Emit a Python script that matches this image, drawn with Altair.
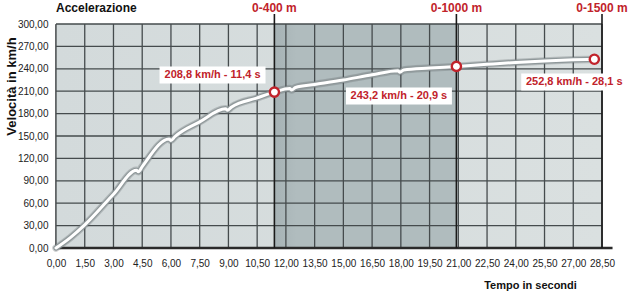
import altair as alt
import pandas as pd

# ---- data ----
time_s = [0.0, 0.75, 1.5, 3.0, 4.2, 4.3, 4.5, 5.9, 6.0, 6.2, 7.5, 8.85, 8.95, 9.15,
          10.5, 11.4, 12.2, 12.3, 12.5, 13.5, 15.0, 16.5, 17.85, 17.95, 18.15, 19.5,
          20.9, 22.5, 24.0, 25.5, 27.0, 28.1]
speed_kmh = [0.0, 14.0, 31.0, 72.0, 104.0, 102.0, 109.0, 146.0, 144.0, 149.0, 169.0,
             186.5, 184.5, 188.5, 201.0, 208.8, 213.5, 211.5, 215.0, 219.0, 225.0,
             232.0, 237.5, 235.5, 238.5, 241.0, 243.2, 246.0, 248.5, 250.5, 252.0, 252.8]

marker_t = [11.4, 20.9, 28.1]
marker_v = [208.8, 243.2, 252.8]
marker_labels = ["208,8 km/h - 11,4 s", "243,2 km/h - 20,9 s", "252,8 km/h - 28,1 s"]
label_t = [8.17, 17.9, 27.05]
label_v = [231.7, 203.6, 222.3]

dist_t = [11.4, 20.9, 28.5]
dist_labels = ["0-400 m", "0-1000 m", "0-1500 m"]

chart_title = "Accelerazione"

x_ticks = [0.0, 1.5, 3.0, 4.5, 6.0, 7.5, 9.0, 10.5, 12.0, 13.5, 15.0, 16.5, 18.0,
           19.5, 21.0, 22.5, 24.0, 25.5, 27.0, 28.5]
y_ticks = [0, 30, 60, 90, 120, 150, 180, 210, 240, 270, 300]

x_min, x_max = 0.0, 28.5
y_min, y_max = 0, 300
axis_end = 29.05

FONT = "Liberation Sans, Arial, sans-serif"
RED = "#c1232b"
GRID = "#454b4d"

curve = pd.DataFrame({"t": time_s, "v": speed_kmh})
markers = pd.DataFrame({"t": marker_t, "v": marker_v, "lt": label_t, "lv": label_v,
                        "label": marker_labels})
dists = pd.DataFrame({"t": dist_t, "label": dist_labels, "y0": y_min, "y1": y_max})
title_df = pd.DataFrame({"t": [x_min], "v": [y_max], "label": [chart_title]})
bg = pd.DataFrame({"x0": [x_min], "x1": [x_max], "y0": [y_min], "y1": [y_max]})
band = pd.DataFrame({"x0": [dist_t[0]], "x1": [dist_t[1]], "y0": [y_min], "y1": [y_max]})
vgrid = pd.DataFrame({"t": x_ticks, "y0": y_min, "y1": y_max})
hgrid = pd.DataFrame({"v": y_ticks, "x0": x_min, "x1": x_max})
base = pd.DataFrame({"x0": [x_min], "x1": [axis_end], "v": [y_min]})

lab_expr = "replace(format(datum.value, '.2f'), '.', ',')"
xscale = alt.Scale(domain=[x_min, x_max], nice=False, zero=False)
yscale = alt.Scale(domain=[y_min, y_max], nice=False)
xaxis = alt.Axis(values=x_ticks, labelExpr=lab_expr, domain=False, ticks=False, grid=False,
                 labelPadding=10, labelFontSize=10, labelColor="#222222", labelOverlap=False,
                 labelFlush=False, labelFont=FONT,
                 title="Tempo in secondi", titleX=474, titleY=37, titleAlign="center",
                 titleBaseline="middle", titleFontWeight="bold", titleFontSize=11,
                 titleColor="#111111", titleFont=FONT)
yaxis = alt.Axis(values=y_ticks, labelExpr=lab_expr, domain=True, domainColor="#2a2a2a",
                 domainWidth=2, ticks=False, grid=False, labelPadding=8, labelFontSize=10,
                 labelColor="#222222", labelFont=FONT,
                 title="Velocità in km/h", titleX=-45, titleY=62, titleAngle=270,
                 titleAlign="center", titleBaseline="middle", titleFontWeight="bold",
                 titleFontSize=13, titleColor="#111111", titleFont=FONT)


def X(field):
    return alt.X(field, type="quantitative", scale=xscale, axis=xaxis)


def Y(field):
    return alt.Y(field, type="quantitative", scale=yscale, axis=yaxis)


bg_layer = alt.Chart(bg).mark_rect(
    fill=alt.Gradient(gradient="linear", x1=0, x2=1, y1=0, y2=0,
                      stops=[alt.GradientStop(color="#d3dadb", offset=0),
                             alt.GradientStop(color="#dae0e0", offset=1)])
).encode(x=X("x0"), x2="x1", y=Y("y0"), y2="y1")

band_layer = alt.Chart(band).mark_rect(
    fill=alt.Gradient(gradient="linear", x1=0, x2=1, y1=0, y2=0,
                      stops=[alt.GradientStop(color="#a6b2b5", offset=0),
                             alt.GradientStop(color="#b0bcbe", offset=0.12),
                             alt.GradientStop(color="#b0bcbe", offset=1)])
).encode(x=X("x0"), x2="x1", y=Y("y0"), y2="y1")

vgrid_layer = alt.Chart(vgrid).mark_rule(color=GRID, strokeWidth=1.3).encode(
    x=X("t"), y=Y("y0"), y2="y1")
hgrid_layer = alt.Chart(hgrid).mark_rule(color=GRID, strokeWidth=1.3).encode(
    x=X("x0"), x2="x1", y=Y("v"))
base_layer = alt.Chart(base).mark_rule(color="#2a2a2a", strokeWidth=2.5, clip=False).encode(
    x=X("x0"), x2="x1", y=Y("v"))

dist_rules = alt.Chart(dists).mark_rule(color="#1a1a1a", strokeWidth=1.6, clip=False,
                                        y2Offset=-10).encode(
    x=X("t"), y=Y("y0"), y2="y1")
dist_text = alt.Chart(dists).mark_text(color=RED, fontWeight="bold", fontSize=12, font=FONT,
                                       dy=-16, baseline="middle", align="center",
                                       clip=False).encode(
    x=X("t"), y=Y("y1"), text="label:N")
title_text = alt.Chart(title_df).mark_text(color="#111111", fontWeight="bold", fontSize=12,
                                           font=FONT, dy=-16, baseline="middle",
                                           align="left", clip=False).encode(
    x=X("t"), y=Y("v"), text="label:N")

shadow = alt.Chart(curve).mark_line(color="#5f686a", strokeWidth=7.5, opacity=0.3,
                                    interpolate="monotone", strokeCap="round").encode(
    x=X("t"), y=Y("v"))
outline = alt.Chart(curve).mark_line(color="#8f989a", strokeWidth=5.4,
                                     interpolate="monotone", strokeCap="round").encode(
    x=X("t"), y=Y("v"))
inner = alt.Chart(curve).mark_line(color="#ffffff", strokeWidth=3.0,
                                   interpolate="monotone", strokeCap="round").encode(
    x=X("t"), y=Y("v"))

boxes = alt.Chart(markers).mark_point(
    shape="M-1,-0.16L1,-0.16L1,0.16L-1,0.16Z", size=106 * 106, filled=True,
    fill="#ffffff", opacity=1, strokeWidth=0, clip=False).encode(x=X("lt"), y=Y("lv"))
labels = alt.Chart(markers).mark_text(color=RED, fontWeight="bold", fontSize=11, font=FONT,
                                      align="center", baseline="middle", clip=False).encode(
    x=X("lt"), y=Y("lv"), text="label:N")
points = alt.Chart(markers).mark_point(shape="circle", size=85, filled=False, fill="#ffffff",
                                       fillOpacity=1, stroke=RED, strokeWidth=2.4,
                                       opacity=1).encode(x=X("t"), y=Y("v"))

chart = alt.layer(
    bg_layer, band_layer, vgrid_layer, hgrid_layer, base_layer, dist_rules,
    shadow, outline, inner, boxes, labels, points, dist_text, title_text
).properties(
    width=546, height=224, autosize="none",
    padding={"left": 56, "top": 24, "right": 28, "bottom": 43},
).configure_view(stroke=None).configure(background="#ffffff")

chart.save("out.html", embed_options={"renderer": "svg", "actions": False})
